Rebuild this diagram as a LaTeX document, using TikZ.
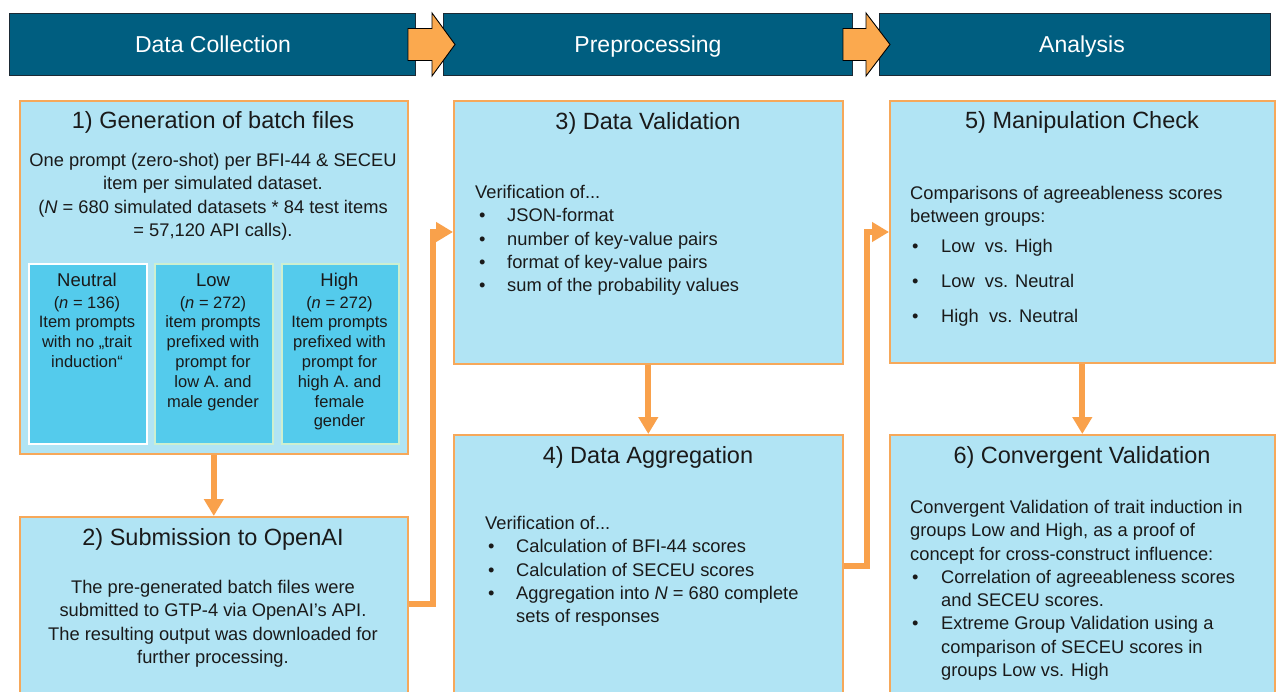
\documentclass[tikz,border=0pt]{standalone}
\usepackage{fontspec}
\setmainfont{Liberation Sans}
\usetikzlibrary{arrows.meta,calc}
\definecolor{barblue}{HTML}{005E80}
\definecolor{barline}{HTML}{1B2A35}
\definecolor{arrorange}{HTML}{FBA94E}
\definecolor{boxfill}{HTML}{B1E4F4}
\definecolor{boxline}{HTML}{F6A85A}
\definecolor{subfill}{HTML}{54CBEC}
\definecolor{subgreen}{HTML}{CDEFD0}
\definecolor{connorange}{HTML}{F9A14B}
\definecolor{txt}{HTML}{1A1A1A}
\newcommand\mybul[2]{\hspace*{#1}\makebox[#2][l]{\textbullet}}
\begin{document}
\begin{tikzpicture}[x=1pt,y=-1pt,
  bar/.style={draw=barline, line width=1pt, fill=barblue, anchor=north west, inner sep=0, minimum height=62pt},
  bartext/.style={text=white, font=\fontsize{23}{27}\selectfont, anchor=base, inner sep=0},
  blockarrow/.style={draw=black, line width=0.9pt, fill=arrorange, line join=miter},
  box/.style={draw=boxline, line width=1.6pt, fill=boxfill, anchor=north west, inner sep=0},
  subbox/.style={fill=subfill, line width=1.6pt, anchor=north west, inner sep=0, minimum width=118pt, minimum height=180pt},
  title/.style={font=\fontsize{23.5}{28}\selectfont, text=txt, anchor=base, inner sep=0},
  body/.style={font=\fontsize{18.3}{23.3}\selectfont, text=txt, inner sep=0, align=center, anchor=north},
  bodyl/.style={body, align=left, anchor=north west},
  subtitle/.style={font=\fontsize{18.5}{22}\selectfont, anchor=base, inner sep=0, text=txt},
  subbody/.style={font=\fontsize{16.5}{19.8}\selectfont, align=center, anchor=north, inner sep=0, text=txt},
  conn/.style={draw=connorange, line width=6pt, -{Triangle[length=17pt,width=19pt]}, line join=miter}
]
\fill[white] (0,0) rectangle (1276,692);
\useasboundingbox (0,0) rectangle (1276,692);

% header bars
\node[bar, minimum width=406pt] (h1) at (9,13) {};
\node[bar, minimum width=409pt] (h2) at (443,13) {};
\node[bar, minimum width=391pt] (h3) at (879,13) {};
\node[bartext] (h1t) at (213,53) {Data Collection};
\node[bartext] (h2t) at (648,53) {Preprocessing};
\node[bartext] (h3t) at (1082,53) {Analysis};
\begin{scope}[shift={(h1.east)}]
\draw[blockarrow] (-8,-16) -- (16,-16) -- (16,-31.5) -- (39,0) -- (16,31.5) -- (16,16) -- (-8,16) -- cycle;
\end{scope}
\begin{scope}[shift={(h2.east)}]
\draw[blockarrow] (-10,-16) -- (13,-16) -- (13,-31.5) -- (37,0) -- (13,31.5) -- (13,16) -- (-10,16) -- cycle;
\end{scope}

% boxes
\node[box, minimum width=388pt, minimum height=353pt] (b1) at (19,100) {};
\node[box, minimum width=388pt, minimum height=190pt] (b2) at (19,516) {};
\node[box, minimum width=389pt, minimum height=263pt] (b3) at (453,100) {};
\node[box, minimum width=389pt, minimum height=272pt] (b4) at (453,434) {};
\node[box, minimum width=385pt, minimum height=262pt] (b5) at (889,100) {};
\node[box, minimum width=385pt, minimum height=272pt] (b6) at (889,434) {};

% sub boxes
\node[subbox, draw=white] (s1) at (28,263) {};
\node[subbox, draw=subgreen] (s2) at (154,263) {};
\node[subbox, draw=subgreen, minimum width=117pt] (s3) at (281,263) {};

% box 1
\node[title] (t1) at (213,129) {1) Generation of batch files};
\node[body] (d1) at (213,153) {One prompt (zero-shot) per BFI-44 \& SECEU\\item per simulated dataset.\\(\textit{N} = 680 simulated datasets * 84 test items\\= 57,120 API calls).};
\node[subtitle] (s1t) at (87,287) {Neutral};
\node[subbody] (s1d) at (87,296) {(\textit{n} = 136)\\Item prompts\\with no „trait\\induction“};
\node[subtitle] (s2t) at (213,287) {Low};
\node[subbody] (s2d) at (213,296) {(\textit{n} = 272)\\item prompts\\prefixed with\\prompt for\\low A. and\\male gender};
\node[subtitle] (s3t) at (339.5,287) {High};
\node[subbody] (s3d) at (339.5,296) {(\textit{n} = 272)\\Item prompts\\prefixed with\\prompt for\\high A. and\\female\\gender};

% box 2
\node[title] (t2) at (213,545) {2) Submission to OpenAI};
\node[body] (d2) at (213,580) {The pre-generated batch files were\\submitted to GTP-4 via OpenAI’s API.\\The resulting output was downloaded for\\further processing.};

% box 3
\node[title] (t3) at (648,130) {3) Data Validation};
\node[bodyl] (d3) at (475,185) {Verification of...\\\mybul{4pt}{28pt}JSON-format\\\mybul{4pt}{28pt}number of key-value pairs\\\mybul{4pt}{28pt}format of key-value pairs\\\mybul{4pt}{28pt}sum of the probability values};

% box 4
\node[title] (t4) at (648,463) {4) Data Aggregation};
\node[bodyl] (d4) at (485,516) {Verification of...\\\mybul{3pt}{28pt}Calculation of BFI-44 scores\\\mybul{3pt}{28pt}Calculation of SECEU scores\\\mybul{3pt}{28pt}Aggregation into \textit{N} = 680 complete\\\hspace*{31pt}sets of responses};

% box 5
\node[title] (t5) at (1082,129) {5) Manipulation Check};
\node[bodyl] (d5) at (910,186) {Comparisons of agreeableness scores\\between groups:\\[6.7pt]\mybul{2pt}{29pt}Low\ \ vs. High\\[11.7pt]\mybul{2pt}{29pt}Low\ \ vs. Neutral\\[11.7pt]\mybul{2pt}{29pt}High\ \ vs. Neutral};

% box 6
\node[title] (t6) at (1082,463) {6) Convergent Validation};
\node[bodyl] (d6) at (910,500) {Convergent Validation of trait induction in\\groups Low and High, as a proof of\\concept for cross-construct influence:\\\mybul{2pt}{29pt}Correlation of agreeableness scores\\\hspace*{31pt}and SECEU scores.\\\mybul{2pt}{29pt}Extreme Group Validation using a\\\hspace*{31pt}comparison of SECEU scores in\\\hspace*{31pt}groups Low vs. High};

% connectors
\draw[conn] (b1.south) -- (b2.north);
\draw[conn] ($(b2.north east)+(0,88)$) -- ++(24,0) |- ($(b3.north west)+(0,132)$);
\draw[conn] (b3.south) -- (b4.north);
\draw[conn] ($(b4.north east)+(0,132)$) -- ++(23,0) |- ($(b5.north west)+(0,132)$);
\draw[conn] (b5.south) -- (b6.north);
\end{tikzpicture}
\end{document}
